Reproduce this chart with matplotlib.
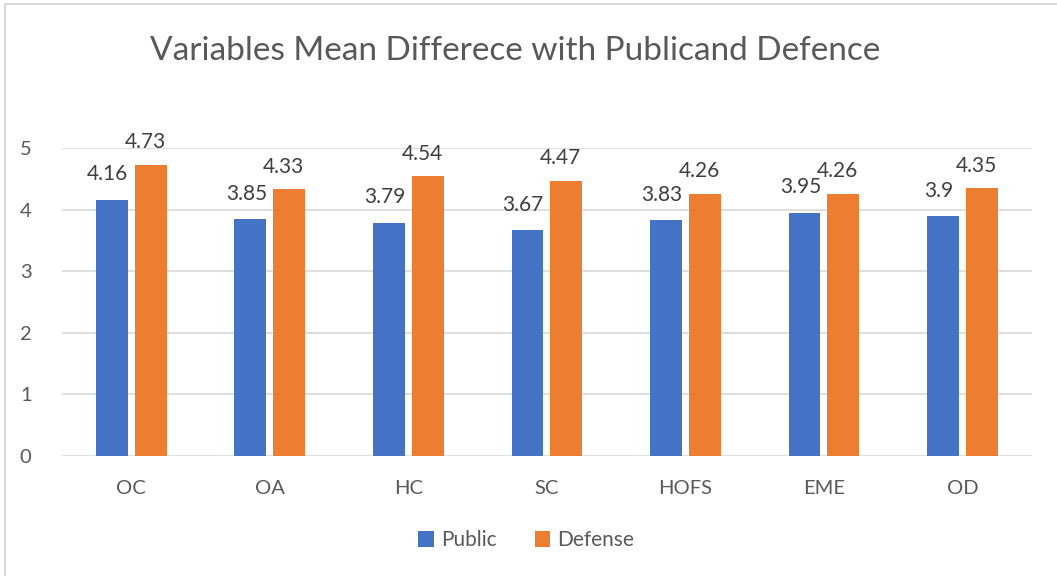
import matplotlib
matplotlib.use("Agg")
import matplotlib.pyplot as plt
import numpy as np
from matplotlib.lines import Line2D

categories = ["OC", "OA", "HC", "SC", "HOFS", "EME", "OD"]
public = [4.16, 3.85, 3.79, 3.67, 3.83, 3.95, 3.9]
defense = [4.73, 4.33, 4.54, 4.47, 4.26, 4.26, 4.35]
public_labels = ["4.16", "3.85", "3.79", "3.67", "3.83", "3.95", "3.9"]
defense_labels = ["4.73", "4.33", "4.54", "4.47", "4.26", "4.26", "4.35"]
yticks = [0, 1, 2, 3, 4, 5]
title = "Variables Mean Differece with Publicand Defence"

plt.rcParams['font.family'] = ['Lato', 'DejaVu Sans']
txt = "#595959"
blue = "#4472C4"
orange = "#ED7D31"

fig = plt.figure(figsize=(10.57, 5.76), dpi=100)
ax = fig.add_axes([0.0587, 0.2083, 0.9173, 0.5347])

x = np.arange(len(categories))
w = 0.23
off = 0.14
b1 = ax.bar(x - off, public, w, color=blue, label="Public", zorder=3)
b2 = ax.bar(x + off, defense, w, color=orange, label="Defense", zorder=3)

for rect, lab in zip(b1, public_labels):
    ax.annotate(lab, (rect.get_x() + rect.get_width() / 2, rect.get_height()),
                xytext=(-3, 11), textcoords="offset points", ha="center", va="bottom",
                fontsize=15, color="#404040")
for rect, lab in zip(b2, defense_labels):
    ax.annotate(lab, (rect.get_x() + rect.get_width() / 2, rect.get_height()),
                xytext=(-4, 9), textcoords="offset points", ha="center", va="bottom",
                fontsize=15, color="#404040")

ax.set_xlim(-0.5, len(categories) - 0.5)
ax.set_ylim(0, 5)
ax.set_yticks(yticks)
ax.set_yticklabels([str(t) for t in yticks])
ax.set_xticks(x)
ax.set_xticklabels(categories)
ax.tick_params(axis="both", length=0, labelsize=14.5, colors=txt)
ax.tick_params(axis="y", pad=22)
ax.tick_params(axis="x", pad=17)
for s in ax.spines.values():
    s.set_visible(False)
ax.yaxis.grid(True, color="#D9D9D9", linewidth=1.2, zorder=0)
ax.set_axisbelow(True)

fig.text(0.487, 0.912, title, ha="center", va="center", fontsize=24, color=txt)

leg = fig.legend(handles=[b1, b2], labels=["Public", "Defense"], loc="center",
                 bbox_to_anchor=(0.498, 0.062), ncol=2, frameon=False,
                 fontsize=15, handlelength=0.75, handleheight=0.75, handletextpad=0.35,
                 columnspacing=1.8)
for t in leg.get_texts():
    t.set_color(txt)

fig.add_artist(Line2D([5/1057, 5/1057], [0, 1 - 4/576], transform=fig.transFigure,
                      color="#D9D9D9", linewidth=1.5))
fig.add_artist(Line2D([5/1057, 1], [1 - 4/576, 1 - 4/576], transform=fig.transFigure,
                      color="#D9D9D9", linewidth=1.5))

fig.savefig("out.png", dpi=100, facecolor="white")
